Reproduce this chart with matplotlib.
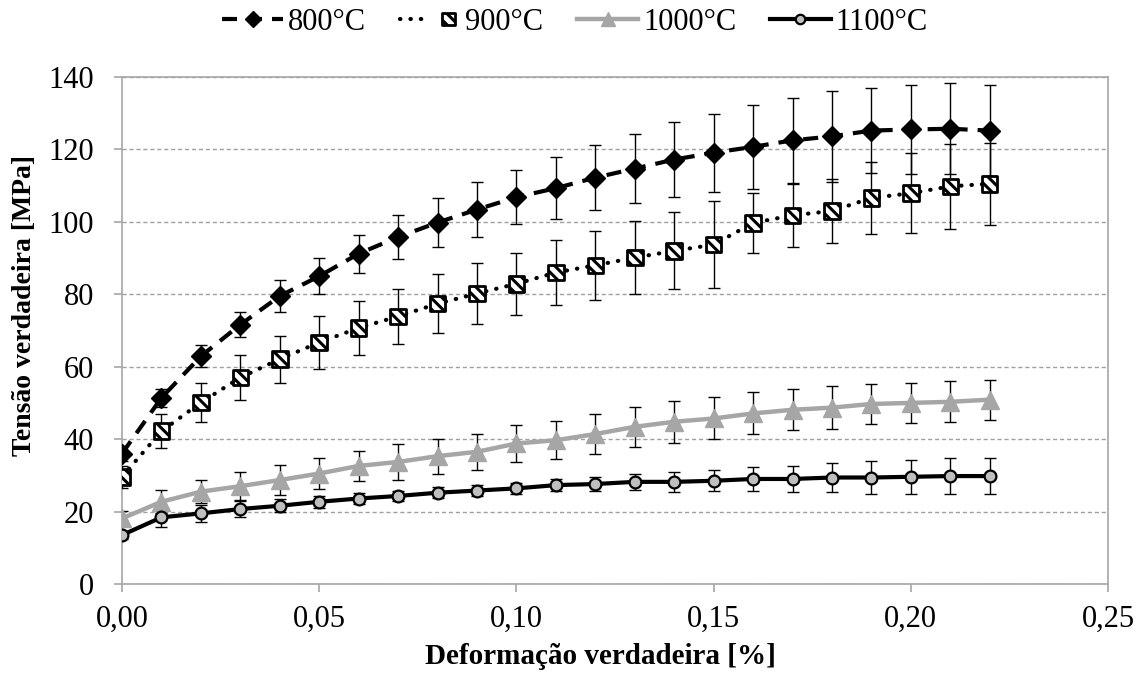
import matplotlib
matplotlib.use("Agg")
import matplotlib.pyplot as plt
from matplotlib.lines import Line2D
from matplotlib.legend_handler import HandlerTuple
from matplotlib.ticker import FuncFormatter

plt.rcParams['font.family'] = ['Liberation Serif', 'DejaVu Serif']
plt.rcParams['hatch.linewidth'] = 2.2

# True strain [-]
strain = [0.00, 0.01, 0.02, 0.03, 0.04, 0.05, 0.06, 0.07, 0.08, 0.09, 0.10, 0.11,
          0.12, 0.13, 0.14, 0.15, 0.16, 0.17, 0.18, 0.19, 0.20, 0.21, 0.22]

# True stress [MPa] and standard deviation for each test temperature
s800 = [36.0, 51.4, 62.9, 71.6, 79.5, 85.0, 91.2, 95.8, 99.8, 103.4, 106.8, 109.3,
        112.2, 114.7, 117.2, 119.1, 120.7, 122.5, 123.6, 125.2, 125.5, 125.7, 125.2]
e800 = [2.0, 2.5, 3.0, 3.5, 4.4, 5.0, 5.2, 6.0, 6.8, 7.7, 7.5, 8.5,
        9.0, 9.6, 10.3, 10.8, 11.5, 11.7, 12.5, 11.8, 12.4, 12.6, 12.5]

s900 = [29.6, 42.2, 50.1, 57.0, 62.1, 66.7, 70.7, 73.9, 77.4, 80.2, 82.9, 86.0,
        88.0, 90.1, 92.0, 93.7, 99.7, 101.8, 103.0, 106.6, 107.9, 109.8, 110.5]
e900 = [3.0, 4.7, 5.5, 6.1, 6.5, 7.3, 7.5, 7.6, 8.2, 8.5, 8.5, 9.0,
        9.6, 10.0, 10.6, 12.0, 8.3, 8.7, 8.8, 10.0, 11.0, 11.7, 11.4]

s1000 = [18.1, 22.7, 25.5, 27.0, 28.7, 30.5, 32.6, 33.7, 35.3, 36.5, 38.8, 39.7,
         41.4, 43.4, 44.8, 45.7, 47.1, 48.1, 48.7, 49.7, 50.0, 50.3, 50.9]
e1000 = [2.0, 3.2, 3.2, 3.9, 4.1, 4.2, 4.2, 4.9, 4.8, 5.0, 5.1, 5.2,
         5.5, 5.5, 5.8, 5.8, 5.8, 5.7, 6.0, 5.6, 5.6, 5.7, 5.5]

s1100 = [13.5, 18.4, 19.5, 20.7, 21.6, 22.7, 23.6, 24.3, 25.2, 25.8, 26.4, 27.3,
         27.6, 28.2, 28.2, 28.5, 29.0, 29.0, 29.4, 29.4, 29.6, 29.8, 29.8]
e1100 = [1.0, 2.8, 2.3, 2.1, 1.8, 1.6, 1.5, 1.5, 1.5, 1.5, 1.5, 1.7,
         2.0, 2.3, 2.7, 2.9, 3.4, 3.5, 4.0, 4.5, 4.7, 5.0, 5.0]

labels = ['800°C', '900°C', '1000°C', '1100°C']
x_ticks = [0.00, 0.05, 0.10, 0.15, 0.20, 0.25]
y_ticks = [0, 20, 40, 60, 80, 100, 120, 140]

GRAY_AX = '#a6a6a6'
GRAY_1000 = '#a6a6a6'
GRAY_FILL = '#bfbfbf'

fig = plt.figure(figsize=(11.36, 6.8), dpi=100)
ax = fig.add_axes([0.1074, 0.1412, 0.868, 0.7456])

# error bars first so the markers sit on top
for s, e in [(s800, e800), (s900, e900), (s1000, e1000), (s1100, e1100)]:
    ax.errorbar(strain, s, yerr=e, fmt='none', ecolor='black', elinewidth=1.0,
                capsize=4.3, capthick=1.0, zorder=3)

l800, = ax.plot(strain, s800, color='black', lw=3, ls=(0, (3.6, 2.4)),
                marker='D', ms=10, mfc='black', mec='black', zorder=6)
l900, = ax.plot(strain, s900, color='black', lw=3, ls=(0, (0.1, 2.4)),
                dash_capstyle='round', zorder=4)
sc900 = ax.scatter(strain, s900, marker='s', s=125, facecolor='white',
                   edgecolor='black', linewidths=2.0, hatch='\\\\\\', zorder=5)
l1000, = ax.plot(strain, s1000, color=GRAY_1000, lw=3.2, marker='^', ms=13,
                 mfc=GRAY_1000, mec=GRAY_1000, zorder=4)
l1100, = ax.plot(strain, s1100, color='black', lw=3, marker='o', ms=8.5,
                 mfc=GRAY_FILL, mec='black', mew=1.6, zorder=4)

ax.set_xlim(0, 0.25)
ax.set_ylim(0, 140)
ax.set_xticks(x_ticks)
ax.set_yticks(y_ticks)
ax.xaxis.set_major_formatter(FuncFormatter(lambda v, p: f'{v:.2f}'.replace('.', ',')))
ax.tick_params(axis='both', direction='out', length=6, width=1.2, color=GRAY_AX,
               labelsize=22)
ax.tick_params(axis='y', pad=14)
ax.tick_params(axis='x', pad=9)

ax.yaxis.grid(True, color='#a0a0a0', lw=1.0, ls=(0, (3, 2)))
ax.set_axisbelow(True)
for sp in ax.spines.values():
    sp.set_color(GRAY_AX)
    sp.set_linewidth(1.2)

fig.text(25 / 1136, 1 - 306 / 680, 'Tensão verdadeira [MPa]', rotation=90,
         ha='center', va='center', fontsize=20, fontweight='bold')
fig.text(600 / 1136, 1 - 657 / 680, 'Deformação verdadeira [%]',
         ha='center', va='center', fontsize=21, fontweight='bold')

h800 = Line2D([], [], color='black', lw=3, ls=(0, (3.6, 2.4)), marker='D', ms=10,
              mfc='black', mec='black')
h900_line = Line2D([], [], color='black', lw=3, ls=(0, (0.1, 2.4)),
                   dash_capstyle='round')
fig.legend([h800, (h900_line, sc900), l1000, l1100], labels,
           handler_map={tuple: HandlerTuple(ndivide=None)},
           loc='center', bbox_to_anchor=(575 / 1136, 1 - 22 / 680), ncol=4,
           frameon=False, fontsize=22, handlelength=2.0, handletextpad=0.15,
           columnspacing=1.1, scatteryoffsets=[0.5], markerscale=0.8,
           borderaxespad=0)

fig.savefig('out.png', dpi=100)
